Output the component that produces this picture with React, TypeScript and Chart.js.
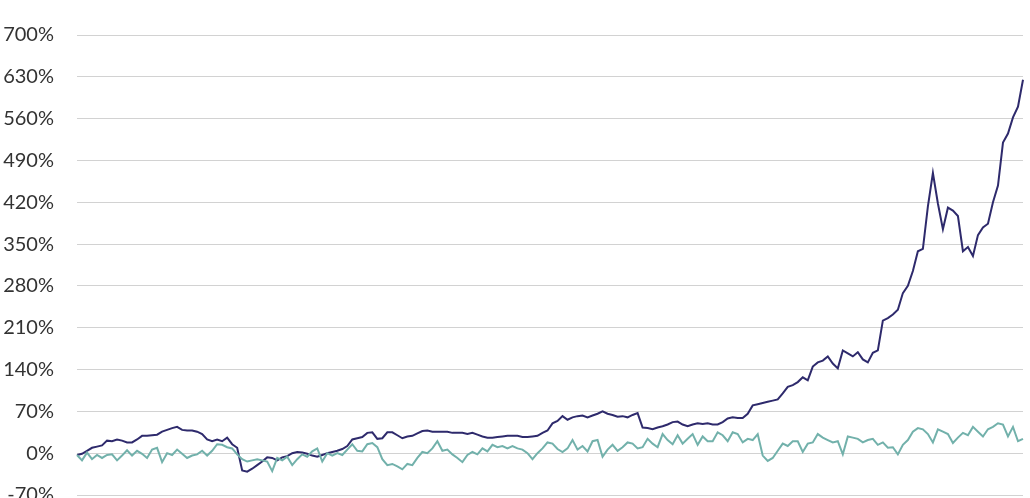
import React, { useEffect, useRef } from "react";
import { Chart, registerables } from "chart.js";

Chart.register(...registerables);

// Cumulative return, %, dark series
const portfolioReturn: number[] = [
  -3, -1, 4, 9, 11, 13, 21, 20, 23, 21,
  18, 18, 23, 29, 29, 30, 31, 36, 39, 42,
  44, 39, 38, 38, 36, 32, 23, 20, 23, 20,
  26, 15, 9, -29, -31, -26, -20, -14, -7, -8,
  -12, -7, -5, 0, 2, 1, -1, -4, -6, -3,
  0, 2, 4, 7, 12, 23, 25, 27, 34, 35,
  24, 25, 35, 35, 30, 25, 28, 29, 33, 37,
  38, 36, 36, 36, 36, 34, 34, 34, 32, 34,
  31, 28, 26, 26, 27, 28, 29, 29, 29, 27,
  27, 28, 29, 34, 38, 50, 54, 62, 56, 60,
  62, 63, 60, 63, 66, 70, 66, 64, 61, 62,
  60, 64, 67, 43, 42, 40, 43, 45, 48, 52,
  53, 48, 45, 48, 50, 49, 50, 48, 48, 52,
  58, 60, 59, 59, 66, 80, 82, 84, 86, 88,
  90, 100, 111, 114, 119, 127, 122, 145, 152, 155,
  162, 150, 142, 172, 167, 162, 169, 157, 152, 168,
  172, 222, 226, 232, 240, 268, 280, 305, 338, 342,
  413, 469, 418, 375, 411, 406, 397, 338, 345, 330,
  365, 378, 384, 420, 448, 520, 535, 562, 580, 625,
];

// Cumulative return, %, teal series
const benchmarkReturn: number[] = [
  -3, -12, 1, -10, -3, -8, -3, -2, -12, -4,
  5, -4, 4, -1, -8, 6, 9, -15, 0, -3,
  6, -1, -8, -4, -2, 4, -4, 4, 15, 14,
  10, 8, -2, -10, -14, -12, -10, -12, -14, -30,
  -8, -12, -6, -20, -10, -2, -6, 3, 8, -14,
  0, -4, 0, -3, 6, 15, 4, 3, 15, 17,
  10, -10, -20, -18, -22, -27, -18, -20, -8, 2,
  0, 8, 20, 4, 6, -2, -8, -15, -3, 2,
  -2, 8, 3, 14, 10, 12, 8, 12, 8, 6,
  0, -10, 0, 8, 18, 16, 7, 2, 8, 22,
  6, 12, 3, 20, 22, -6, 6, 14, 4, 10,
  18, 16, 8, 10, 24, 16, 10, 32, 22, 15,
  30, 16, 24, 32, 14, 28, 20, 20, 35, 30,
  20, 35, 32, 18, 24, 22, 32, -4, -13, -8,
  4, 16, 12, 20, 20, 2, 16, 18, 32, 26,
  22, 18, 20, -2, 28, 26, 24, 18, 22, 24,
  14, 18, 9, 10, -2, 14, 22, 36, 42, 40,
  32, 18, 40, 36, 32, 17, 26, 34, 30, 44,
  36, 28, 40, 44, 50, 48, 28, 44, 20, 24,
];

const yTicks: number[] = [-70, 0, 70, 140, 210, 280, 350, 420, 490, 560, 630, 700];

const periods: string[] = portfolioReturn.map((_, i) => `P${i + 1}`);

export default function App() {
  const ref = useRef<HTMLCanvasElement | null>(null);

  useEffect(() => {
    if (!ref.current) return;
    const chart = new Chart(ref.current, {
      type: "line",
      data: {
        labels: periods,
        datasets: [
          {
            label: "Benchmark",
            data: benchmarkReturn,
            borderColor: "#72b1ab",
            borderWidth: 2,
            pointRadius: 0,
            tension: 0,
            fill: false,
          },
          {
            label: "Portfolio",
            data: portfolioReturn,
            borderColor: "#2e2a6c",
            borderWidth: 2,
            pointRadius: 0,
            tension: 0,
            fill: false,
          },
        ],
      },
      options: {
        animation: false,
        responsive: false,
        maintainAspectRatio: false,
        layout: { padding: { top: 30, bottom: 29, left: 0, right: 7 } },
        plugins: { legend: { display: false }, tooltip: { enabled: false } },
        scales: {
          x: {
            display: false,
            offset: false,
          },
          y: {
            min: yTicks[0],
            max: yTicks[yTicks.length - 1],
            afterFit: (scale: any) => {
              scale.width = 77;
            },
            afterBuildTicks: (scale: any) => {
              scale.ticks = yTicks.map((v) => ({ value: v }));
            },
            border: { display: false },
            grid: { color: "#d2d2d2", lineWidth: 1, drawTicks: false },
            ticks: {
              padding: 23,
              color: "#333333",
              font: { family: "Lato", size: 20 },
              callback: (v: any) => `${v}%`,
            },
          },
        },
      },
    });
    return () => chart.destroy();
  }, []);

  return (
    <div
      style={{
        position: "fixed",
        left: 0,
        top: 0,
        width: 1030,
        height: 498,
        overflow: "hidden",
        background: "#ffffff",
      }}
    >
      <canvas ref={ref} width={1030} height={530} style={{ display: "block" }} />
    </div>
  );
}
